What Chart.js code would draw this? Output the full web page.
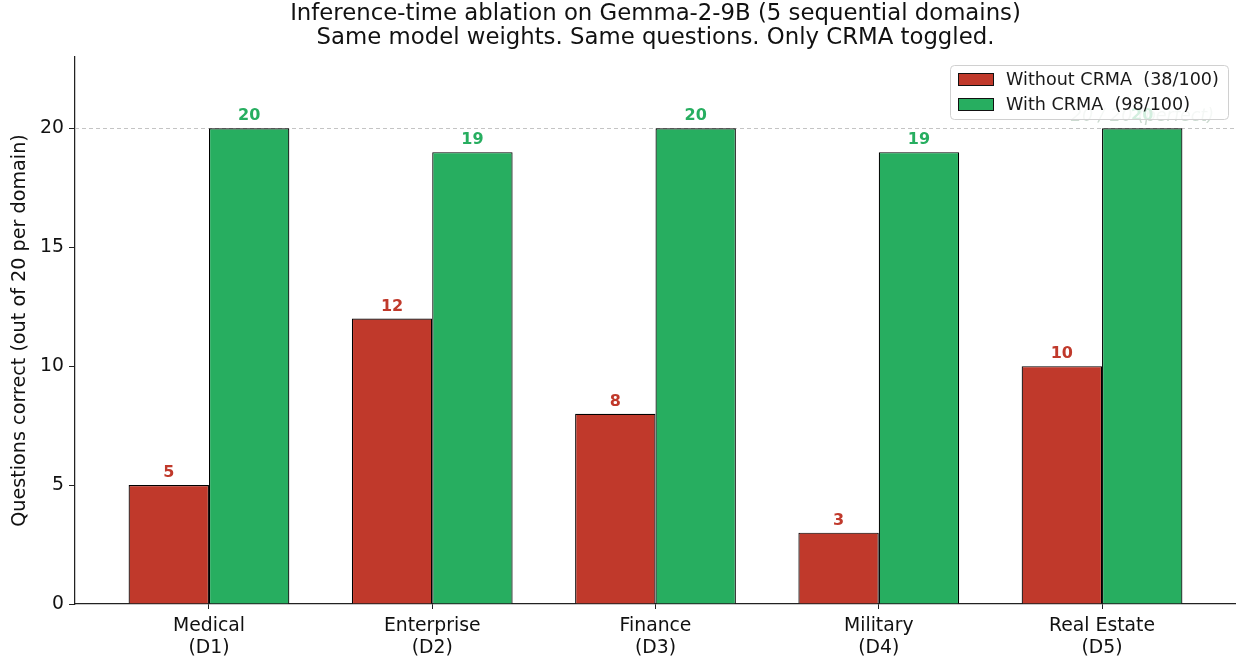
<!DOCTYPE html>
<html>
<head>
<meta charset="utf-8">
<script src="https://cdn.jsdelivr.net/npm/chart.js@4.4.1/dist/chart.umd.min.js"></script>
<style>
  html, body { margin: 0; padding: 0; background: #ffffff; }
  #wrap { width: 1236px; height: 657px; position: relative; }
</style>
</head>
<body>
<div id="wrap"><canvas id="c" width="1236" height="657"></canvas></div>
<script>
// Domains and per-domain correct answers (out of 20)
const domains = [['Medical', '(D1)'], ['Enterprise', '(D2)'], ['Finance', '(D3)'], ['Military', '(D4)'], ['Real Estate', '(D5)']];
const withoutCrma = [5, 12, 8, 3, 10];
const withCrma = [20, 19, 20, 19, 20];
const yTicks = [0, 5, 10, 15, 20];
const perfectScore = 20;
const titleLines = ['Inference-time ablation on Gemma-2-9B (5 sequential domains)', 'Same model weights. Same questions. Only CRMA toggled.'];
const yTitle = 'Questions correct (out of 20 per domain)';
const perfectNote = '20 / 20 (perfect)';

const RED = '#c0392b';
const GREEN = '#27ae60';
const FONT = "'DejaVu Sans', sans-serif";

const sum = a => a.reduce((s, v) => s + v, 0);
const total = perfectScore * domains.length;
const toPoints = vals => vals.map((v, i) => ({ x: i, y: v }));

// Title, reference line, value labels and in-plot legend
const decorations = {
  id: 'decorations',
  beforeDatasetsDraw(chart) {
    const { ctx, chartArea, scales } = chart;
    const y = Math.round(scales.y.getPixelForValue(perfectScore));
    ctx.save();
    ctx.strokeStyle = '#c4c4c4';
    ctx.lineWidth = 1;
    ctx.setLineDash([4, 3]);
    ctx.beginPath();
    ctx.moveTo(chartArea.left, y + 0.5);
    ctx.lineTo(chartArea.right, y + 0.5);
    ctx.stroke();
    ctx.restore();
  },
  afterDatasetsDraw(chart) {
    const { ctx, chartArea, scales } = chart;
    ctx.save();
    // value labels above each bar
    ctx.font = 'bold 16px ' + FONT;
    ctx.textAlign = 'center';
    ctx.textBaseline = 'alphabetic';
    chart.data.datasets.forEach((ds, di) => {
      const meta = chart.getDatasetMeta(di);
      meta.data.forEach((bar, i) => {
        ctx.fillStyle = ds.backgroundColor;
        ctx.fillText(String(ds.data[i].y), bar.x, bar.y - 8);
      });
    });
    // reference line note
    ctx.font = 'italic 17.5px ' + FONT;
    ctx.textAlign = 'right';
    ctx.fillStyle = 'rgba(110,150,120,0.35)';
    ctx.fillText(perfectNote, chartArea.right - 22, scales.y.getPixelForValue(perfectScore) - 7);
    ctx.restore();
  },
  afterDraw(chart) {
    const { ctx, chartArea } = chart;
    ctx.save();
    // title
    ctx.fillStyle = '#111';
    ctx.font = '22.8px ' + FONT;
    ctx.textAlign = 'center';
    ctx.textBaseline = 'middle';
    const cx = (chartArea.left + chartArea.right) / 2;
    titleLines.forEach((t, i) => ctx.fillText(t, cx, 14 + i * 24));

    // legend box
    const bx = 950.5, by = 65.5, bw = 278, bh = 54, r = 4;
    ctx.beginPath();
    ctx.roundRect(bx, by, bw, bh, r);
    ctx.fillStyle = 'rgba(255,255,255,0.8)';
    ctx.fill();
    ctx.strokeStyle = '#d0d0d0';
    ctx.lineWidth = 1;
    ctx.stroke();
    ctx.font = '17.6px ' + FONT;
    ctx.textAlign = 'left';
    ctx.textBaseline = 'middle';
    chart.data.datasets.forEach((ds, i) => {
      const cy = 79 + i * 25;
      ctx.fillStyle = ds.backgroundColor;
      ctx.fillRect(958, cy - 6, 35, 12);
      ctx.strokeStyle = '#111';
      ctx.strokeRect(958.5, cy - 5.5, 35, 12);
      ctx.fillStyle = '#1a1a1a';
      ctx.fillText(ds.label, 1006, cy + 1);
    });
    ctx.restore();
  }
};

new Chart(document.getElementById('c'), {
  type: 'bar',
  data: {
    datasets: [
      {
        label: 'Without CRMA  (' + sum(withoutCrma) + '/' + total + ')',
        data: toPoints(withoutCrma),
        backgroundColor: RED,
        borderColor: '#000',
        borderWidth: 1.2
      },
      {
        label: 'With CRMA  (' + sum(withCrma) + '/' + total + ')',
        data: toPoints(withCrma),
        backgroundColor: GREEN,
        borderColor: '#000',
        borderWidth: 1.2
      }
    ]
  },
  options: {
    responsive: false,
    animation: false,
    devicePixelRatio: 1,
    categoryPercentage: 0.72,
    barPercentage: 1.0,
    layout: { padding: { top: 57, left: 0, right: 0, bottom: 0 } },
    plugins: {
      legend: { display: false },
      title: { display: false },
      tooltip: { enabled: false }
    },
    scales: {
      x: {
        type: 'linear',
        offset: false,
        min: -0.6,
        max: 4.6,
        afterBuildTicks(scale) { scale.ticks = domains.map((d, i) => ({ value: i })); },
        afterFit(scale) { scale.height = 53; },
        ticks: {
          autoSkip: false,
          maxRotation: 0,
          padding: 6,
          color: '#111',
          font: { family: FONT, size: 18.8, lineHeight: 1.17 },
          callback: v => domains[v]
        },
        grid: { display: true, offset: false, drawOnChartArea: false, drawTicks: true, tickLength: 5, color: '#222', lineWidth: 1 },
        border: { display: true, color: '#222', width: 1.25 }
      },
      y: {
        min: 0,
        max: 23,
        afterBuildTicks(scale) { scale.ticks = yTicks.map(v => ({ value: v })); },
        afterFit(scale) { scale.width = 75; },
        ticks: {
          padding: 5,
          color: '#111',
          font: { family: FONT, size: 18.8 }
        },
        title: {
          display: true,
          text: yTitle,
          color: '#111',
          font: { family: FONT, size: 19.2, lineHeight: 1.2 },
          padding: { top: 8, bottom: 0 }
        },
        grid: { display: true, drawOnChartArea: false, drawTicks: true, tickLength: 6, color: '#222', lineWidth: 1 },
        border: { display: true, color: '#222', width: 1.25 }
      }
    }
  },
  plugins: [decorations]
});
</script>
</body>
</html>
